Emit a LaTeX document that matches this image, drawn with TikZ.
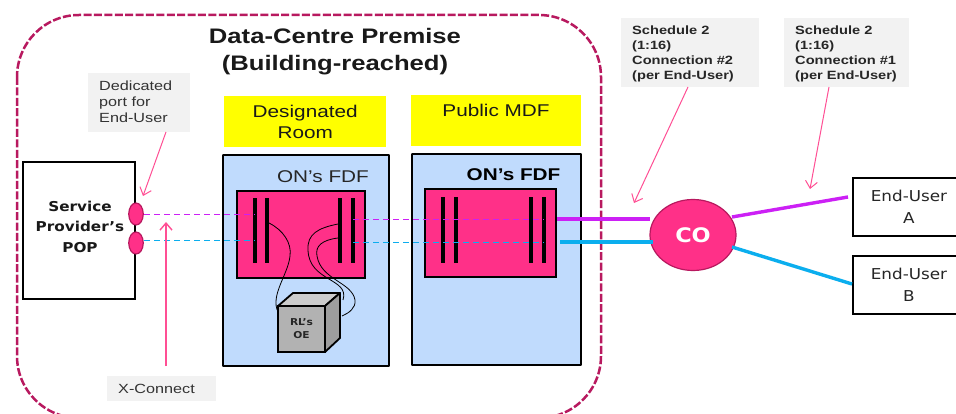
\documentclass[tikz,border=0pt]{standalone}
\usepackage{fontspec}
\setmainfont[FakeStretch=1.22]{Liberation Sans}
\newfontfamily\djv[FakeStretch=1.12]{DejaVu Sans}
\usetikzlibrary{arrows.meta,shapes.geometric}
\definecolor{premise}{HTML}{B8195F}
\definecolor{hotp}{HTML}{FF3088}
\definecolor{panel}{HTML}{C0DBFD}
\definecolor{callout}{HTML}{F2F2F2}
\definecolor{leader}{HTML}{FF4F94}
\definecolor{mag}{HTML}{CC20F5}
\definecolor{cyanl}{HTML}{0BAEEE}
\definecolor{yellowb}{HTML}{FFFF00}
\tikzset{
 x=1pt,y=-1pt,
 lbl/.style={fill=callout,inner sep=0pt,anchor=north west},
 yellowbox/.style={fill=yellowb,inner sep=0pt,anchor=north west,font=\fontsize{17}{21}\selectfont,align=center,text=black!90},
 panelbox/.style={draw=black,line width=1.8pt,fill=panel,rounded corners=0.5pt},
 fdfbox/.style={draw=black,line width=1.8pt,fill=hotp},
 blackbox/.style={draw=black,line width=1.9pt,fill=white,inner sep=0pt,align=center},
 leadline/.style={draw=leader,line width=1pt,-{Straight Barb[length=7pt,width=12pt]}},
 xd/.style={line width=0.8pt,dash pattern=on 6pt off 4pt},
 solidlink/.style={line width=3.4pt},
 bar/.style={fill=black,draw=none},
 fibre/.style={draw=black,line width=0.8pt},
 port/.style={ellipse,draw=premise,fill=hotp,line width=1.2pt,minimum width=14.5pt,minimum height=22pt,inner sep=0pt}
}
\begin{document}
\begin{tikzpicture}
\useasboundingbox (0,0) rectangle (956,414);
\fill[white] (0,0) rectangle (956,414);
\begin{scope}
\clip (0,0) rectangle (956,414);
\draw[premise,line width=2.5pt,dash pattern=on 8pt off 2.4pt,rounded corners=62pt] (17,15) rectangle (601,418);
\end{scope}
\node[anchor=north,font=\fontsize{21}{27}\selectfont\bfseries,align=center,text=black!90] (title) at (335,25) {Data-Centre Premise\\(Building-reached)};
% POP
\node[blackbox,minimum width=112pt,minimum height=137pt] (pop) at (79,230.5) {};
\node[font=\djv\fontsize{13.6}{20.5}\selectfont\bfseries,align=center,text=black!90] (popt) at (80,226.5) {Service\\Provider’s\\POP};
% panels
\path[panelbox] (223,155) rectangle (389,366);
\path[panelbox] (412,154) rectangle (581,365);
\node[yellowbox,minimum width=162pt,minimum height=51pt] (room) at (224,96) {Designated\\Room};
\node[yellowbox,minimum width=170pt,minimum height=51pt] (mdf) at (411,95) {};
\node[font=\fontsize{17}{20}\selectfont,text=black!90] (mdft) at (496,110) {Public MDF};
\node[font=\fontsize{17}{18}\selectfont,text=black!85] (fdf1) at (323,177) {ON’s FDF};
\node[font=\fontsize{17}{18}\selectfont\bfseries,text=black] (fdf2) at (513.5,175) {ON’s FDF};
% FDF
\path[fdfbox] (237,191) rectangle (365,278);
\path[fdfbox] (425,189) rectangle (556,277);
% bars
\foreach \bx in {254.7,267,340,352.7}{\fill[bar] (\bx-2,198) rectangle (\bx+2,263);}
\foreach \bx in {443,456,531,544}{\fill[bar] (\bx-2,197) rectangle (\bx+2,263);}
% dashed links
\coordinate (p1e) at (144,214);
\coordinate (p2e) at (144,240);
\draw[mag,xd] (p1e) -- (255,214);
\draw[cyanl,xd] (p2e) -- (255,240);
\draw[mag,xd] (353,219) -- (544,219);
\draw[cyanl,xd] (353,242) -- (544,242);
% cube
\path[draw=black,line width=1.8pt,fill=black!20,line join=round] (278,306) -- (293,293) -- (340,293) -- (325,306) -- cycle;
\path[draw=black,line width=1.8pt,fill=black!38,line join=round] (325,306) -- (340,293) -- (340,338) -- (325,352) -- cycle;
\node[draw=black,line width=1.8pt,fill=black!30,minimum width=47pt,minimum height=46pt,inner sep=0pt,align=center,font=\djv\fontsize{9.5}{13}\selectfont\bfseries,text=black!85] (oe) at (301.5,329) {RL’s\\OE};
% fibres
\draw[fibre] (269,223) .. controls (283,230) and (292,243) .. (290,256) .. controls (288,275) and (270,295) .. (278,312);
\draw[fibre] (338,224) .. controls (318,228) and (307,234) .. (308,250) .. controls (309,282) and (350,278) .. (343,300);
\draw[fibre] (338,238) .. controls (322,240) and (315,246) .. (317,256) .. controls (321,280) and (352,282) .. (355,300) .. controls (356,308) and (349,313) .. (342,316);
% ports
\node[port] (p1) at (136,214) {};
\node[port] (p2) at (136,243) {};
% CO
\node[ellipse,draw=premise,fill=hotp,line width=1.2pt,minimum width=86pt,minimum height=71pt,inner sep=0pt,font=\djv\fontsize{20}{20}\selectfont\bfseries,text=white] (co) at (693,235) {\raisebox{-3pt}{CO}};
% End users
\node[blackbox,anchor=north west,minimum width=112pt,minimum height=58pt,font=\djv\fontsize{15}{21.5}\selectfont,text=black!85] (eua) at (852,177) {End-User\\A};
\node[blackbox,anchor=north west,minimum width=112pt,minimum height=58pt,font=\djv\fontsize{15}{21.5}\selectfont,text=black!85] (eub) at (852,255) {End-User\\B};
% solid links
\coordinate (ml) at (557,219);
\coordinate (mr) at (650,219);
\coordinate (cl) at (560,242);
\coordinate (cr) at (653,242);
\draw[mag,solidlink] (ml) -- (mr);
\draw[cyanl,solidlink] (cl) -- (cr);
\coordinate (ma) at (732,217);
\coordinate (mb) at (848,197);
\coordinate (ca) at (732,247);
\coordinate (cb) at (852,284);
\draw[mag,solidlink] (ma) -- (mb);
\draw[cyanl,solidlink] (ca) -- (cb);
% callouts
\node[lbl,minimum width=102pt,minimum height=59pt] (ded) at (88,73) {};
\node[anchor=north west,inner sep=0pt,align=left,font=\fontsize{13.3}{16}\selectfont,text=black!80] (dedt) at (99,81) {Dedicated\\port for\\End-User};
\node[lbl,minimum width=109pt,minimum height=25pt] (xc) at (107,376) {};
\node[anchor=west,inner sep=0pt,font=\fontsize{13.3}{16}\selectfont,text=black!80] (xct) at (118,388.5) {X-Connect};
\node[lbl,minimum width=138pt,minimum height=69pt] (s2) at (621,18) {};
\node[anchor=north west,inner sep=0pt,align=left,font=\fontsize{12}{15}\selectfont\bfseries,text=black!85] (s2t) at (632,25.5) {Schedule 2\\(1:16)\\Connection \#2\\(per End-User)};
\node[lbl,minimum width=125pt,minimum height=69pt] (s1) at (784,18) {};
\node[anchor=north west,inner sep=0pt,align=left,font=\fontsize{12}{15}\selectfont\bfseries,text=black!85] (s1t) at (795,25.5) {Schedule 2\\(1:16)\\Connection \#1\\(per End-User)};
% leaders
\coordinate (t1) at (143,196);
\coordinate (f1) at (166,132);
\coordinate (t2) at (166,222);
\coordinate (f2) at (166,366);
\coordinate (t3) at (634,203);
\coordinate (f3) at (688,87);
\coordinate (t4) at (810,189);
\coordinate (f4) at (829,87);
\draw[leadline] (f1) -- (t1);
\draw[leadline,line width=1.4pt] (f2) -- (t2);
\draw[leadline] (f3) -- (t3);
\draw[leadline] (f4) -- (t4);
\end{tikzpicture}
\end{document}
